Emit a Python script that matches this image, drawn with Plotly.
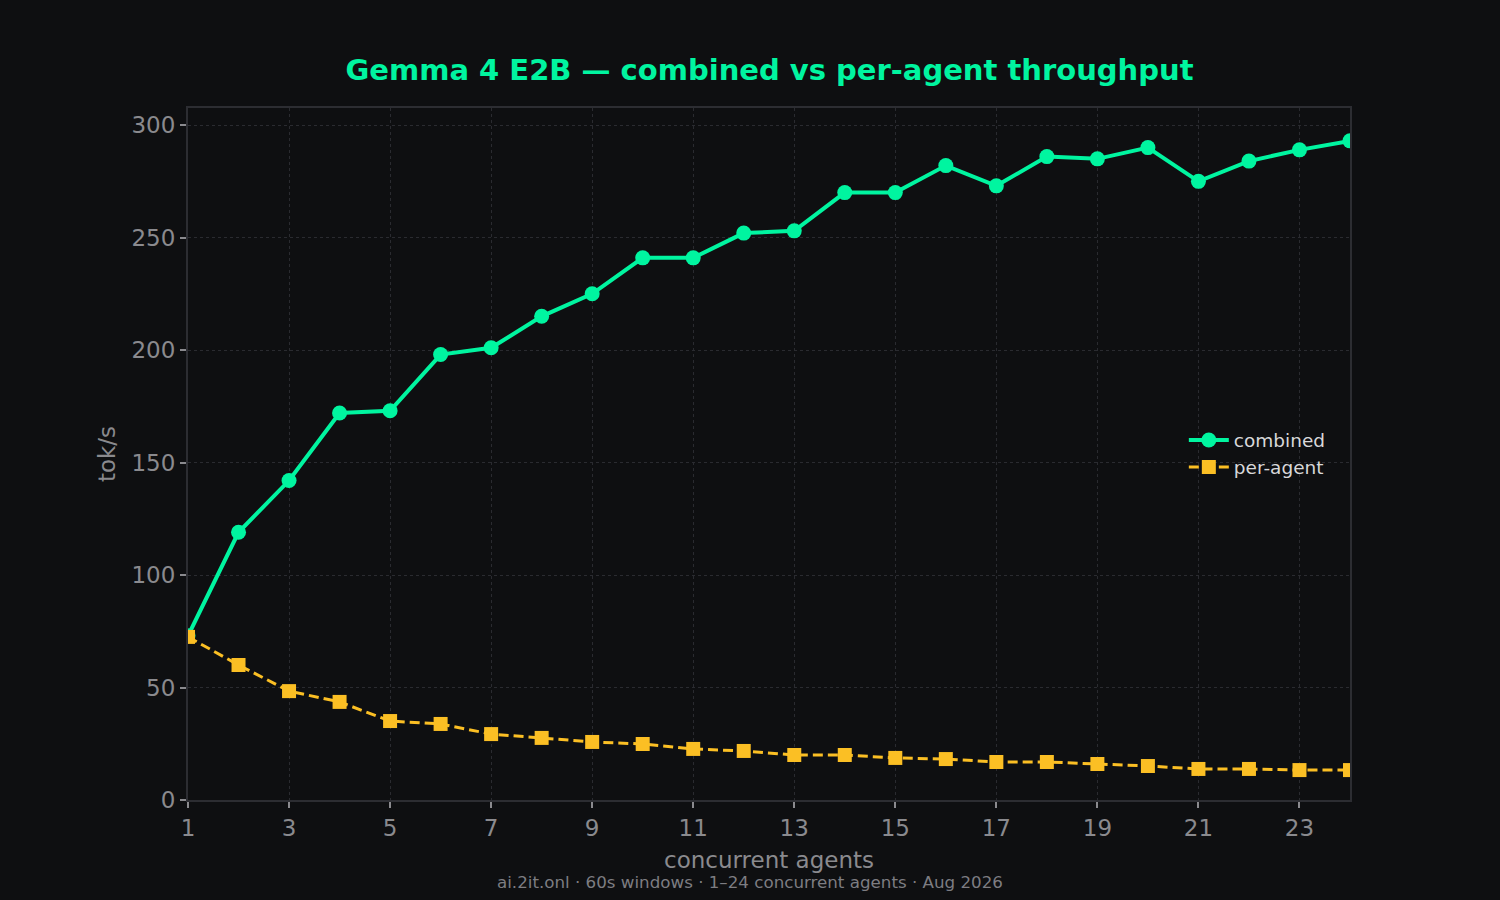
import plotly.graph_objects as go

# Data
agents = list(range(1, 25))
combined = [73, 119, 142, 172, 173, 198, 201, 215, 225, 241, 241, 252,
            253, 270, 270, 282, 273, 286, 285, 290, 275, 284, 289, 293]
per_agent = [72.5, 60, 48.4, 43.6, 35.1, 33.8, 29.3, 27.6, 25.8, 24.9, 22.7, 21.8,
             20.0, 20.0, 18.7, 18.2, 16.9, 16.9, 16.0, 15.1, 13.8, 13.8, 13.3, 13.3]
x_ticks = list(range(1, 25, 2))
y_ticks = [0, 50, 100, 150, 200, 250, 300]

BG = '#0e0f11'
GREEN = '#00f5a0'
AMBER = '#fbbf24'
GRID = '#2a2b30'
SPINE = '#2c2d32'
MUTED = '#8a8a8e'
FONT = 'DejaVu Sans'

fig = go.Figure()

fig.add_trace(go.Scatter(
    x=agents, y=combined, mode='lines+markers', name='combined',
    line=dict(color=GREEN, width=4),
    marker=dict(symbol='circle', size=15, color=GREEN),
))

fig.add_trace(go.Scatter(
    x=agents, y=per_agent, mode='lines+markers', name='per-agent',
    line=dict(color=AMBER, width=3, dash='10px,5px'),
    marker=dict(symbol='square', size=14, color=AMBER),
))

fig.update_layout(
    width=1500, height=900,
    paper_bgcolor=BG, plot_bgcolor=BG,
    font=dict(family=FONT, color=MUTED),
    margin=dict(l=188, r=150, t=108, b=100),
    title=dict(
        text='<b>Gemma 4 E2B — combined vs per-agent throughput</b>',
        font=dict(family=FONT, size=29, color=GREEN),
        x=0.513, xanchor='center', y=0.922, yanchor='middle',
    ),
    showlegend=True,
    legend=dict(
        x=0.857, xanchor='left', y=0.5, yanchor='middle',
        bgcolor='rgba(0,0,0,0)', font=dict(family=FONT, size=18.5, color='#d8d8da'),
        itemwidth=40, tracegroupgap=2,
    ),
    annotations=[dict(
        text='ai.2it.onl · 60s windows · 1–24 concurrent agents · Aug 2026',
        xref='paper', yref='paper', x=0.484, y=-0.118,
        xanchor='center', yanchor='middle', showarrow=False,
        font=dict(family=FONT, size=16.7, color='#7d7d82'),
    )],
)

fig.update_xaxes(
    range=[1, 24], tickvals=x_ticks,
    showgrid=True, gridcolor=GRID, griddash='dot', gridwidth=1,
    showline=True, linecolor=SPINE, linewidth=2, mirror=True,
    ticks='outside', ticklen=6, tickcolor=MUTED, tickwidth=1.5,
    tickfont=dict(family=FONT, size=23, color=MUTED),
    zeroline=False,
    title=dict(text='concurrent agents', font=dict(family=FONT, size=23, color=MUTED), standoff=12),
)

fig.update_yaxes(
    range=[0, 307.6], tickvals=y_ticks,
    showgrid=True, gridcolor=GRID, griddash='dot', gridwidth=1,
    showline=True, linecolor=SPINE, linewidth=2, mirror=True,
    ticks='outside', ticklen=6, tickcolor=MUTED, tickwidth=1.5,
    tickfont=dict(family=FONT, size=23, color=MUTED),
    zeroline=False,
    title=dict(text='tok/s', font=dict(family=FONT, size=23, color=MUTED), standoff=9),
)

# Drop the page's default body margin so the figure sits at the window origin
fig.write_html("out.html", config={'displayModeBar': False},
               post_script="document.body.style.margin='0';")
